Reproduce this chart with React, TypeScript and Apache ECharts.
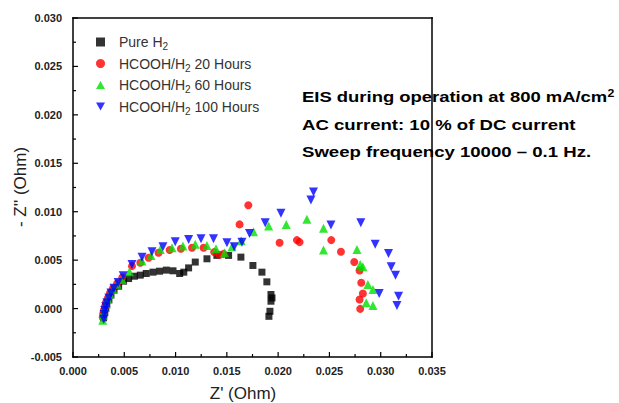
import React, { useEffect, useRef } from "react";
import * as echarts from "echarts";

const pureX = [0.00298, 0.0030, 0.0031, 0.0032, 0.0033, 0.0035, 0.0037, 0.0040, 0.00445, 0.00493, 0.00542, 0.00598, 0.00656, 0.00714, 0.0078, 0.00844, 0.0091, 0.00975, 0.0104, 0.0108, 0.01127, 0.01192, 0.01306, 0.01403, 0.01517, 0.01637, 0.01754, 0.01842, 0.0189, 0.0193, 0.0194, 0.0193, 0.0192, 0.0191];
const pureY = [-0.00096, -0.0007, -0.0004, 0, 0.0004, 0.0009, 0.0014, 0.0019, 0.00231, 0.00283, 0.0031, 0.00334, 0.00345, 0.00362, 0.00376, 0.00386, 0.00397, 0.0039, 0.00362, 0.00376, 0.0042, 0.0048, 0.00514, 0.00549, 0.00549, 0.00531, 0.00445, 0.00376, 0.00276, 0.00145, 0.0011, 0.00076, -0.00028, -0.0008];

const h20X = [0.0029, 0.00295, 0.003, 0.0031, 0.0032, 0.0034, 0.0036, 0.0039, 0.0043, 0.0048, 0.00575, 0.00656, 0.00737, 0.00834, 0.00942, 0.01052, 0.0116, 0.01273, 0.01376, 0.01429, 0.01468, 0.01624, 0.01709, 0.02014, 0.02183, 0.02209, 0.02518, 0.02612, 0.02742, 0.02794, 0.0281, 0.02826, 0.02794, 0.028];
const h20Y = [-0.0009, -0.0005, -0.0002, 0.0002, 0.0006, 0.0011, 0.0016, 0.0021, 0.0026, 0.0032, 0.00438, 0.00473, 0.00525, 0.00577, 0.00604, 0.00618, 0.00628, 0.00628, 0.00583, 0.00556, 0.00565, 0.00869, 0.01066, 0.0068, 0.00707, 0.00686, 0.00707, 0.00587, 0.0048, 0.00393, 0.00266, 0.00155, 0.00093, -0.00003];

const h60X = [0.0029, 0.00295, 0.003, 0.0031, 0.0032, 0.0034, 0.0036, 0.0039, 0.0043, 0.0048, 0.0055, 0.00673, 0.0076, 0.00851, 0.00965, 0.01072, 0.01192, 0.01306, 0.01394, 0.01478, 0.0155, 0.0164, 0.0176, 0.01907, 0.02079, 0.0228, 0.02442, 0.02442, 0.02768, 0.028, 0.02826, 0.02875, 0.02924, 0.02859, 0.02924];
const h60Y = [-0.0012, -0.0007, -0.0003, 0.0001, 0.0005, 0.001, 0.0015, 0.002, 0.0025, 0.003, 0.0038, 0.0049, 0.00549, 0.00611, 0.00628, 0.00645, 0.00663, 0.00652, 0.00618, 0.00577, 0.00639, 0.007, 0.00793, 0.00852, 0.00869, 0.00921, 0.00828, 0.00604, 0.00611, 0.00455, 0.00432, 0.00248, 0.00197, 0.00059, 0.00031];

const h100X = [0.0030, 0.00305, 0.0031, 0.0032, 0.0033, 0.0035, 0.0037, 0.004, 0.0044, 0.0049, 0.00575, 0.00673, 0.0077, 0.00877, 0.00997, 0.01127, 0.01248, 0.0137, 0.01501, 0.01572, 0.01647, 0.01721, 0.01874, 0.02027, 0.0232, 0.02345, 0.02515, 0.02806, 0.02946, 0.03076, 0.03102, 0.03144, 0.02985, 0.03174, 0.03158];
const h100Y = [-0.0011, -0.0006, -0.0002, 0.0002, 0.0006, 0.0011, 0.0016, 0.0021, 0.0027, 0.0034, 0.00455, 0.00531, 0.00587, 0.00639, 0.0069, 0.00714, 0.00721, 0.00721, 0.0068, 0.00639, 0.00686, 0.00776, 0.00887, 0.00983, 0.01121, 0.01204, 0.00862, 0.00887, 0.00663, 0.00569, 0.00432, 0.00345, 0.00155, 0.00127, 0.00031];

const seriesNames = ["Pure H2", "HCOOH/H2 20 Hours", "HCOOH/H2 60 Hours", "HCOOH/H2 100 Hours"];
const legendRich = [
  "{t|Pure H}{s|2}",
  "{t|HCOOH/H}{s|2}{t| 20 Hours}",
  "{t|HCOOH/H}{s|2}{t| 60 Hours}",
  "{t|HCOOH/H}{s|2}{t| 100 Hours}",
];
const xTicks = { min: 0, max: 0.035, interval: 0.005 };
const yTicks = { min: -0.005, max: 0.03, interval: 0.005 };

const zip = (xs: number[], ys: number[]) => xs.map((x, i) => [x, ys[i]]);

const TRI_DOWN = "path://M0,0 L10,0 L5,9 Z";
const TRI_UP = "path://M5,0 L10,9 L0,9 Z";
const FONT = "Arial, Liberation Sans, sans-serif";
const W = 619;
const H = 403;
const GRID = { left: 73, right: 187, top: 18, bottom: 46 };

const tickValues = (t: { min: number; max: number; interval: number }, step: number) => {
  const out: number[] = [];
  const n = Math.round((t.max - t.min) / step);
  for (let i = 0; i <= n; i++) out.push(t.min + i * step);
  return out;
};

export default function App() {
  const ref = useRef<HTMLDivElement>(null);
  useEffect(() => {
    if (!ref.current) return;
    const chart = echarts.init(ref.current, undefined, { renderer: "svg" });
    const axisCommon = {
      axisLine: { show: false },
      axisTick: { show: false },
      splitLine: { show: false },
      axisLabel: {
        fontFamily: FONT,
        fontWeight: "bold",
        fontSize: 11,
        color: "#222",
        formatter: (v: number) => v.toFixed(3),
      },
    };
    const mk = (name: string, xs: number[], ys: number[], symbol: string, size: number, color: string) => ({
      type: "scatter",
      name,
      data: zip(xs, ys),
      symbol,
      symbolSize: size,
      itemStyle: { color },
    });
    const xMajor = tickValues(xTicks, xTicks.interval);
    const xAll = tickValues(xTicks, xTicks.interval / 2);
    const yMajor = tickValues(yTicks, yTicks.interval);
    const yAll = tickValues(yTicks, yTicks.interval / 2);
    const isMajor = (arr: number[], v: number) => arr.some((m) => Math.abs(m - v) < 1e-9);

    const texts: any[] = [
      {
        type: "text",
        x: 302,
        y: 97,
        scaleX: 1.23,
        style: {
          text: "{b|EIS during operation at 800 mA/cm}{sup|2}",
          verticalAlign: "middle",
          rich: {
            b: { fontFamily: FONT, fontWeight: "bold", fontSize: 15, fill: "#000" },
            sup: { fontFamily: FONT, fontWeight: "bold", fontSize: 10, fill: "#000", padding: [0, 0, 8, 0] },
          },
        },
      },
      {
        type: "text",
        x: 302,
        y: 125,
        scaleX: 1.24,
        style: { text: "AC current: 10 % of DC current", font: "bold 15px " + FONT, fill: "#000", verticalAlign: "middle" },
      },
      {
        type: "text",
        x: 302,
        y: 152,
        scaleX: 1.24,
        style: { text: "Sweep frequency 10000 \u2013 0.1 Hz.", font: "bold 15px " + FONT, fill: "#000", verticalAlign: "middle" },
      },
      {
        type: "text",
        x: 243,
        y: 393,
        style: { text: "Z' (Ohm)", font: "17px " + FONT, fill: "#222", align: "center", verticalAlign: "middle" },
      },
      {
        type: "text",
        x: 20,
        y: 187,
        rotation: Math.PI / 2,
        style: { text: "- Z'' (Ohm)", font: "17px " + FONT, fill: "#222", align: "center", verticalAlign: "middle" },
      },
    ];

    // Pixel mapping of the grid's value axes (fallback when convertToPixel is unavailable).
    const L0 = GRID.left, R0 = W - GRID.right, T0 = GRID.top, B0 = H - GRID.bottom;
    const linX = (v: number) => L0 + ((v - xTicks.min) / (xTicks.max - xTicks.min)) * (R0 - L0);
    const linY = (v: number) => B0 - ((v - yTicks.min) / (yTicks.max - yTicks.min)) * (B0 - T0);

    const buildFrame = (toX: (v: number) => number, toY: (v: number) => number) => {
      const l = toX(xTicks.min), r = toX(xTicks.max), t = toY(yTicks.max), b = toY(yTicks.min);
      const w = 1.5;
      const fill = { fill: "#000" };
      const els: any[] = [
        { type: "rect", z: 100, shape: { x: l - w / 2, y: b - w / 2, width: r - l + w, height: w }, style: fill },
        { type: "rect", z: 100, shape: { x: l - w / 2, y: t - w / 2, width: r - l + w, height: w }, style: fill },
        { type: "rect", z: 100, shape: { x: l - w / 2, y: t - w / 2, width: w, height: b - t + w }, style: fill },
        { type: "rect", z: 100, shape: { x: r - w / 2, y: t - w / 2, width: w, height: b - t + w }, style: fill },
      ];
      xAll.forEach((v) => {
        const X = toX(v);
        const len = isMajor(xMajor, v) ? 5 : 3;
        els.push({ type: "rect", z: 100, shape: { x: X - 0.6, y: b - len, width: 1.2, height: len }, style: fill });
      });
      yAll.forEach((v) => {
        const Y = toY(v);
        const len = isMajor(yMajor, v) ? 5 : 3;
        els.push({ type: "rect", z: 100, shape: { x: l, y: Y - 0.6, width: len, height: 1.2 }, style: fill });
      });
      return els;
    };

    chart.setOption({
      animation: false,
      backgroundColor: "#fff",
      grid: { ...GRID, outerBoundsMode: "none" },
      xAxis: { type: "value", ...xTicks, ...axisCommon, axisLabel: { ...axisCommon.axisLabel, margin: 8 } },
      yAxis: { type: "value", ...yTicks, ...axisCommon, axisLabel: { ...axisCommon.axisLabel, margin: 11 } },
      legend: {
        orient: "vertical",
        left: 91,
        top: 30,
        itemGap: 5,
        itemWidth: 9,
        itemHeight: 9,
        data: seriesNames,
        formatter: (n: string) => legendRich[seriesNames.indexOf(n)],
        textStyle: {
          fontFamily: FONT,
          fontSize: 14,
          color: "#333",
          padding: [0, 0, 0, 9],
          rich: {
            t: { fontFamily: FONT, fontSize: 14, color: "#333" },
            s: { fontFamily: FONT, fontSize: 10, color: "#333", padding: [9, 0, 0, 0] },
          },
        },
      },
      series: [
        mk(seriesNames[0], pureX, pureY, "rect", 7, "#000"),
        mk(seriesNames[1], h20X, h20Y, "circle", 8, "#ff0000"),
        mk(seriesNames[2], h60X, h60Y, TRI_UP, 9, "#00e000"),
        mk(seriesNames[3], h100X, h100Y, TRI_DOWN, 9, "#0000ff"),
      ],
      graphic: [...texts, ...buildFrame(linX, linY)],
    });

    // Refine through the chart's own scales when possible.
    try {
      const conv = (x: number, y: number) => chart.convertToPixel({ xAxisIndex: 0, yAxisIndex: 0 } as any, [x, y]) as any;
      const test = conv(xTicks.max, yTicks.max);
      if (test && isFinite(test[0]) && isFinite(test[1])) {
        const toX = (v: number) => conv(v, yTicks.min)[0];
        const toY = (v: number) => conv(xTicks.min, v)[1];
        chart.setOption({ graphic: [...texts, ...buildFrame(toX, toY)] }, { replaceMerge: ["graphic"] } as any);
      }
    } catch (e) {
      // keep fallback frame
    }
    return () => chart.dispose();
  }, []);
  return <div ref={ref} style={{ width: W, height: H, position: "absolute", left: 0, top: 0 }} />;
}
